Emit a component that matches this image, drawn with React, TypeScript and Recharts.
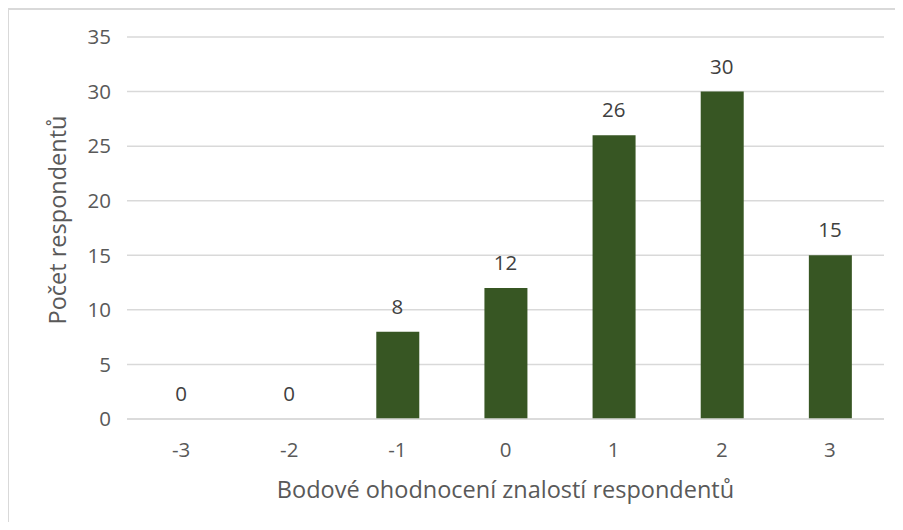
import { ComposedChart, Bar, Line, XAxis, YAxis, CartesianGrid, LabelList, Label } from 'recharts';

const scores = ['-3', '-2', '-1', '0', '1', '2', '3'];
const respondents = [0, 0, 8, 12, 26, 30, 15];
const yTicks = [0, 5, 10, 15, 20, 25, 30, 35];

const xTitle = 'Bodové ohodnocení znalostí respondentů';
const yTitle = 'Počet respondentů';

const FONT = '"Open Sans", "Noto Sans", sans-serif';
const TEXT = '#595959';

export default function App() {
  const data = scores.map((s, i) => ({ score: s, count: respondents[i] }));

  return (
    <div
      style={{
        width: 894,
        height: 512,
        borderLeft: '2px solid #d9d9d9',
        borderTop: '2px solid #d9d9d9',
        marginLeft: -1,
        background: '#fff',
        fontFamily: FONT,
        overflow: 'hidden',
      }}
    >
      <ComposedChart width={894} height={512} data={data} margin={{ top: 27, right: 19, bottom: 63, left: 58 }}>
        <CartesianGrid vertical={false} stroke="#d9d9d9" strokeWidth={1.5} />
        <XAxis
          dataKey="score"
          axisLine={{ stroke: '#d9d9d9', strokeWidth: 1.5 }}
          tickLine={false}
          tickMargin={17}
          height={40}
          tick={{ fill: TEXT, fontSize: 20.5, fontFamily: FONT }}
        >
          <Label
            content={({ viewBox }: any) => (
              <text
                x={viewBox.x + viewBox.width / 2}
                y={viewBox.y + 79}
                textAnchor="middle"
                fill={TEXT}
                fontSize={23.5}
                fontFamily={FONT}
              >
                {xTitle}
              </text>
            )}
          />
        </XAxis>
        <YAxis
          domain={[0, 35]}
          ticks={yTicks}
          axisLine={false}
          tickLine={false}
          width={60}
          tickMargin={10}
          tick={{ fill: TEXT, fontSize: 20.5, fontFamily: FONT }}
        >
          <Label
            content={({ viewBox }: any) => {
              const cx = 48;
              const cy = viewBox.y + viewBox.height / 2 - 8;
              return (
                <text
                  x={cx}
                  y={cy}
                  transform={`rotate(-90, ${cx}, ${cy})`}
                  textAnchor="middle"
                  dominantBaseline="central"
                  fill={TEXT}
                  fontSize={23.5}
                  fontFamily={FONT}
                >
                  {yTitle}
                </text>
              );
            }}
          />
        </YAxis>
        <Bar dataKey="count" fill="#375623" barSize={43} isAnimationActive={false} />
        <Line dataKey="count" stroke="none" dot={false} activeDot={false} isAnimationActive={false}>
          <LabelList dataKey="count" position="top" offset={18} fill="#404040" fontSize={20.5} fontFamily={FONT} />
        </Line>
      </ComposedChart>
    </div>
  );
}
